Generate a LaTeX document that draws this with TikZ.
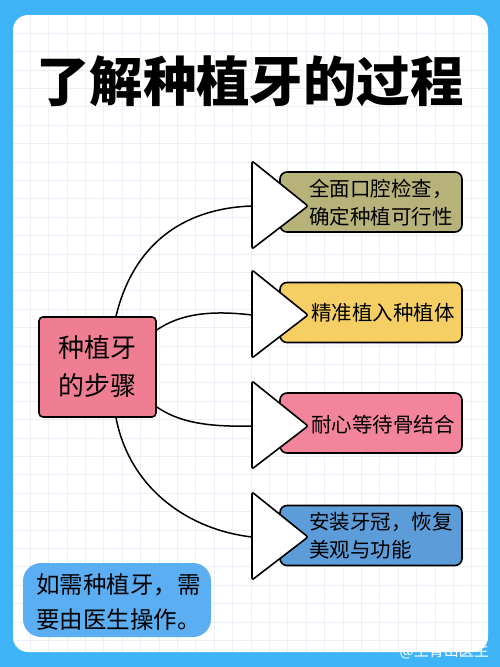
\documentclass[tikz,border=0pt]{standalone}
\usepackage{fontspec}
\setmainfont{Noto Sans CJK SC}
\usetikzlibrary{calc}
\definecolor{bgblue}{RGB}{62,180,247}
\definecolor{gridc}{RGB}{234,240,245}
\definecolor{olivec}{RGB}{183,178,122}
\definecolor{yellowc}{RGB}{245,206,100}
\definecolor{pinkc}{RGB}{242,132,155}
\definecolor{centerc}{RGB}{240,126,147}
\definecolor{bluec}{RGB}{92,156,216}
\definecolor{notec}{RGB}{92,174,242}
\tikzset{
  stepbox/.style={draw=black, line width=1.6pt, rounded corners=7pt, minimum width=182pt, minimum height=60pt, inner sep=0pt},
  tri/.style={draw=black, fill=white, line width=1.6pt, rounded corners=2pt, line join=round},
  steptext/.style={anchor=west, align=left, font=\fontsize{20.5}{28}\selectfont, inner sep=0pt, text=black},
  conn/.style={draw=black, line width=1.5pt},
}
\begin{document}
\begin{tikzpicture}[x=1pt,y=-1pt]
\fill[bgblue] (0,0) rectangle (500,667);
\useasboundingbox (0,0) rectangle (500,667);
\fill[white, rounded corners=15pt] (13,15) rectangle (488,652);
\begin{scope}
\clip[rounded corners=15pt] (13,15) rectangle (488,652);
\foreach \i in {-1,...,25} { \draw[gridc, line width=0.6pt] (30+18.4*\i,15) -- (30+18.4*\i,652); }
\foreach \i in {-7,...,30} { \draw[gridc, line width=0.6pt] (13,125+18.4*\i) -- (488,125+18.4*\i); }
\end{scope}

\node[font=\fontsize{53.5}{60}\selectfont\bfseries, inner sep=0pt] (title) at (250,81) {了解种植牙的过程};

% center node
\node[draw=black, fill=centerc, line width=1.6pt, rounded corners=4pt, minimum width=117pt, minimum height=100pt, inner sep=0pt, align=center, font=\fontsize{26}{38}\selectfont] (c) at (97.5,367) {种植牙\\的步骤};

% step boxes
\node[stepbox, fill=olivec] (b1) at (371,202) {};
\node[stepbox, fill=yellowc] (b2) at (371,312.5) {};
\node[stepbox, fill=pinkc] (b3) at (371,423) {};
\node[stepbox, fill=bluec] (b4) at (371,535.5) {};

% triangles
\coordinate (t1) at (252,206);
\coordinate (t2) at (252,315);
\coordinate (t3) at (252,426);
\coordinate (t4) at (252,537);
\foreach \t in {t1,t2,t3,t4} {
  \draw[tri] ($(\t)+(0,-45)$) -- ($(\t)+(56,0)$) -- ($(\t)+(0,43)$) -- cycle;
}

\node[steptext] (l1) at (309,203) {全面口腔检查，\\确定种植可行性};
\node[steptext] (l2) at (311,313) {精准植入种植体};
\node[steptext] (l3) at (311,425) {耐心等待骨结合};
\node[steptext] (l4) at (309,536) {安装牙冠，恢复\\美观与功能};

% connectors
\draw[conn] (c.70) .. controls (135,238) and (190,208) .. (t1);
\draw[conn] (c.32) .. controls (180,314) and (210,310) .. (t2);
\draw[conn] (c.-34) .. controls (180,423) and (210,427) .. (t3);
\draw[conn] (c.-70) .. controls (130,490) and (190,530) .. (t4);

% note
\node[fill=notec, rounded corners=18pt, minimum width=188pt, minimum height=74pt, inner sep=0pt] (note) at (117,600) {};
\node[anchor=west, align=left, inner sep=0pt, font=\fontsize{23.5}{35}\selectfont] (notetext) at (36,602) {如需种植牙，需\\要由医生操作。};

% watermark
\node[anchor=east, inner sep=0pt, text=white, font=\fontsize{15}{15}\selectfont] (wm) at (489,651) {@王青山医生};
\end{tikzpicture}
\end{document}
